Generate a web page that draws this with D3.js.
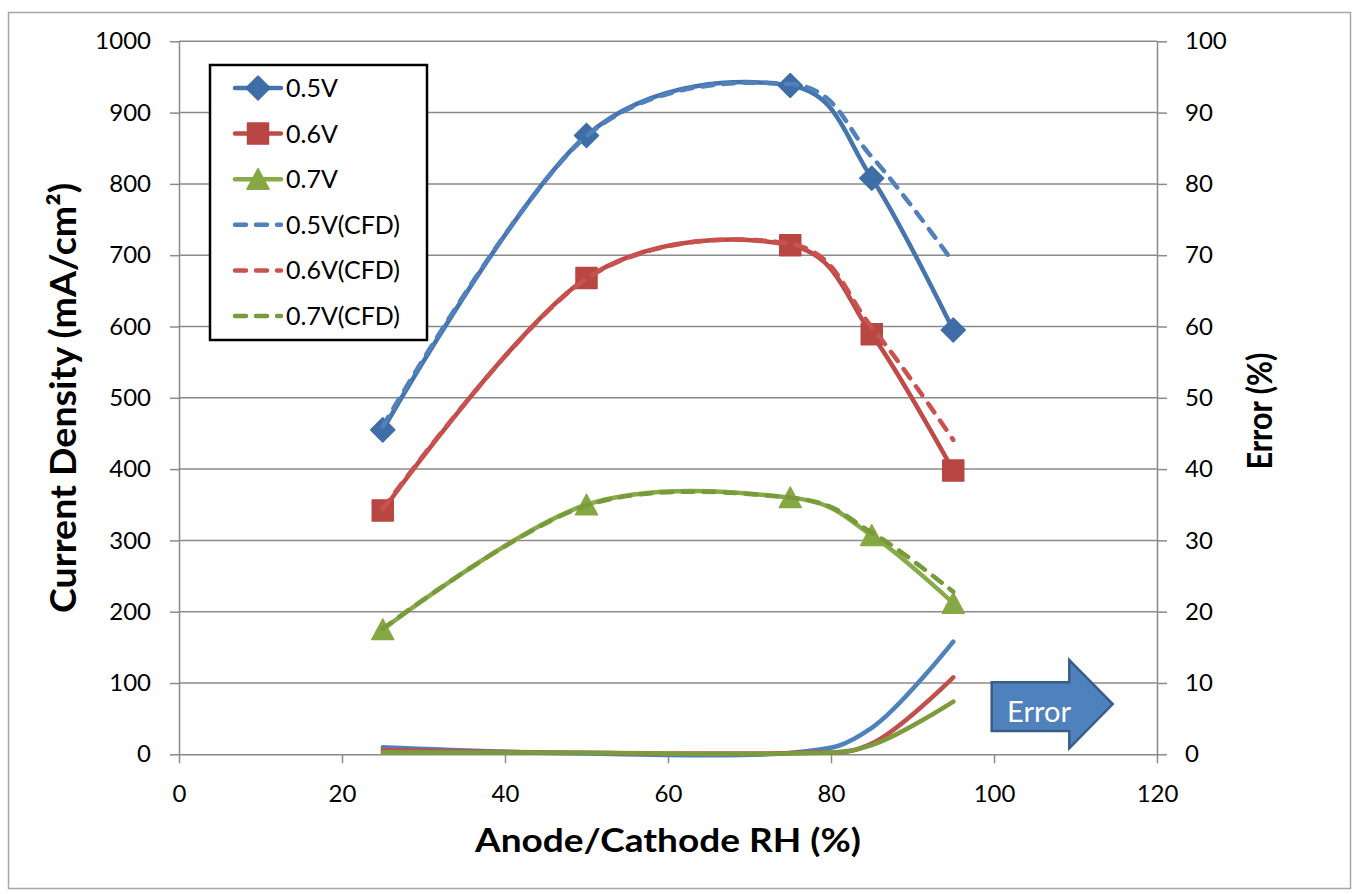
<!DOCTYPE html>
<html>
<head>
<meta charset="utf-8">
<script src="https://cdn.jsdelivr.net/npm/d3@7"></script>
<style>
  body { margin: 0; background: #fff; }
  text { font-family: Lato, "Open Sans", "DejaVu Sans", sans-serif; fill: #000; }
</style>
</head>
<body>
<svg id="chart" width="1354" height="894"></svg>
<script>
// Relative humidity set points (%)
const rh = [25, 50, 75, 85, 95];

// Measured current density (mA/cm²)
const exp05 = [455, 868, 938, 808, 595];
const exp06 = [342, 668, 714, 589, 398];
const exp07 = [175, 350, 360, 307, 212];

// CFD predicted current density (mA/cm²)
const cfd05 = [460, 867, 940, 838, 690];
const cfd06 = [344, 667, 716, 599, 441];
const cfd07 = [176, 349, 360, 311, 228];

// Relative error between CFD and measurement (%)
const err05 = [1.0, 0.1, 0.2, 3.7, 15.8];
const err06 = [0.6, 0.2, 0.2, 1.5, 10.8];
const err07 = [0.3, 0.2, 0.1, 1.3, 7.4];

// Axis ticks
const xTicks = [0, 20, 40, 60, 80, 100, 120];
const yTicks = [0, 100, 200, 300, 400, 500, 600, 700, 800, 900, 1000];
const y2Ticks = [0, 10, 20, 30, 40, 50, 60, 70, 80, 90, 100];

const legendLabels = ["0.5V", "0.6V", "0.7V", "0.5V(CFD)", "0.6V(CFD)", "0.7V(CFD)"];

const svg = d3.select("#chart");
const W = 1354, H = 894;
const plot = { left: 179, right: 1157, top: 41.3, bottom: 754.3 };

svg.append("rect").attr("width", W).attr("height", H).attr("fill", "#fff");
// chart frame
svg.append("rect")
  .attr("x", 8.5).attr("y", 12.5).attr("width", 1342).attr("height", 876)
  .attr("fill", "none").attr("stroke", "#a6a6a6").attr("stroke-width", 1.5);

const x = d3.scaleLinear().domain([0, 120]).range([plot.left, plot.right]);
const y = d3.scaleLinear().domain([0, 1000]).range([plot.bottom, plot.top]);
const y2 = d3.scaleLinear().domain([0, 100]).range([plot.bottom, plot.top]);

const gridColor = "#8a8a8a";
const fmt = d3.format("d");

// horizontal gridlines
svg.append("g").selectAll("line").data(yTicks.filter(d => d > 0)).join("line")
  .attr("x1", plot.left).attr("x2", plot.right)
  .attr("y1", d => y(d)).attr("y2", d => y(d))
  .attr("stroke", gridColor).attr("stroke-width", 1.5);

function styleAxis(g) {
  g.selectAll(".domain").attr("stroke", gridColor).attr("stroke-width", 1.5);
  g.selectAll(".tick line").attr("stroke", gridColor).attr("stroke-width", 1.5);
  g.selectAll(".tick text").attr("font-size", 24).attr("fill", "#000")
    .attr("font-family", "Lato, 'Open Sans', sans-serif");
}

svg.append("g").attr("transform", `translate(${plot.left},0)`)
  .call(d3.axisLeft(y).tickValues(yTicks).tickFormat(fmt).tickSize(9).tickPadding(19).tickSizeOuter(0))
  .call(styleAxis);

svg.append("g").attr("transform", `translate(${plot.right},0)`)
  .call(d3.axisRight(y2).tickValues(y2Ticks).tickFormat(fmt).tickSize(10).tickPadding(18).tickSizeOuter(0))
  .call(styleAxis);

svg.append("g").attr("transform", `translate(0,${plot.bottom})`)
  .call(d3.axisBottom(x).tickValues(xTicks).tickFormat(fmt).tickSize(9).tickPadding(22).tickSizeOuter(0))
  .call(styleAxis);

// axis titles
svg.append("text")
  .attr("transform", `translate(76,398) rotate(-90)`)
  .attr("text-anchor", "middle").attr("font-weight", 700).attr("font-size", 36)
  .attr("textLength", 430).attr("lengthAdjust", "spacingAndGlyphs")
  .text("Current Density (mA/cm²)");

svg.append("text")
  .attr("transform", `translate(1272,411) rotate(-90)`)
  .attr("text-anchor", "middle").attr("font-weight", 700).attr("font-size", 35)
  .attr("textLength", 117).attr("lengthAdjust", "spacingAndGlyphs")
  .text("Error (%)");

svg.append("text")
  .attr("x", 668).attr("y", 851.7)
  .attr("text-anchor", "middle").attr("font-weight", 700).attr("font-size", 32)
  .attr("textLength", 386).attr("lengthAdjust", "spacingAndGlyphs")
  .text("Anode/Cathode RH (%)");

const smooth = d3.curveCardinal.tension(0);

// error curves on the secondary axis
const errSeries = [
  { vals: err05, color: "#4f81bd" },
  { vals: err06, color: "#c0504d" },
  { vals: err07, color: "#7b9b3c" }
];
const errLine = d3.line().x((d, i) => x(rh[i])).y(d => y2(d)).curve(smooth);
svg.append("g").selectAll("path").data(errSeries).join("path")
  .attr("d", s => errLine(s.vals))
  .attr("fill", "none").attr("stroke", s => s.color)
  .attr("stroke-width", 4.5).attr("stroke-linecap", "round");

// measured series
const expSeries = [
  { vals: exp05, color: "#4674ad", mark: "#3f6da6", shape: "diamond" },
  { vals: exp06, color: "#be4b48", mark: "#b84643", shape: "square" },
  { vals: exp07, color: "#88aa48", mark: "#86a844", shape: "triangle" }
];
const cfdSeries = [
  { vals: cfd05, color: "#4f81bd" },
  { vals: cfd06, color: "#c9524e" },
  { vals: cfd07, color: "#779a3a" }
];
const mainLine = d3.line().x((d, i) => x(rh[i])).y(d => y(d)).curve(smooth);

function markerPath(shape) {
  if (shape === "diamond") return "M0,-12L12,0L0,12L-12,0Z";
  if (shape === "square") return "M-10.5,-10.5H10.5V10.5H-10.5Z";
  return "M0,-10.5L11,10L-11,10Z";
}

svg.append("g").selectAll("path").data(expSeries).join("path")
  .attr("d", s => mainLine(s.vals))
  .attr("fill", "none").attr("stroke", s => s.color)
  .attr("stroke-width", 4.5).attr("stroke-linecap", "round").attr("stroke-linejoin", "round");

expSeries.forEach(s => {
  svg.append("g").selectAll("path").data(s.vals).join("path")
    .attr("transform", (d, i) => `translate(${x(rh[i])},${y(d)})`)
    .attr("d", markerPath(s.shape))
    .attr("fill", s.mark).attr("stroke", s.mark)
    .attr("stroke-width", 1.5).attr("stroke-linejoin", "round");
});

svg.append("g").selectAll("path").data(cfdSeries).join("path")
  .attr("d", s => mainLine(s.vals))
  .attr("fill", "none").attr("stroke", s => s.color)
  .attr("stroke-width", 4.5).attr("stroke-linecap", "round")
  .attr("stroke-dasharray", "11,10");

// legend
const lg = svg.append("g");
lg.append("rect").attr("x", 210).attr("y", 65).attr("width", 217).attr("height", 275)
  .attr("fill", "#fff").attr("stroke", "#000").attr("stroke-width", 2.5);
const legendItems = [
  ...expSeries.map((s, i) => ({ label: legendLabels[i], color: s.color, mark: s.mark, shape: s.shape, dash: null })),
  ...cfdSeries.map((s, i) => ({ label: legendLabels[i + 3], color: s.color, shape: null, dash: "11,10" }))
];
legendItems.forEach((it, i) => {
  const cy = 88 + i * 45.6;
  lg.append("line").attr("x1", 235).attr("x2", 281).attr("y1", cy).attr("y2", cy)
    .attr("stroke", it.color).attr("stroke-width", 4.5).attr("stroke-linecap", "round")
    .attr("stroke-dasharray", it.dash);
  if (it.shape) {
    lg.append("path").attr("transform", `translate(258,${cy})`)
      .attr("d", markerPath(it.shape)).attr("fill", it.mark).attr("stroke", it.mark)
      .attr("stroke-width", 1.5).attr("stroke-linejoin", "round");
  }
  lg.append("text").attr("x", 286).attr("y", cy).attr("dy", "0.36em")
    .attr("font-size", 25).text(it.label);
});

// "Error" arrow pointing to the secondary axis
const ar = svg.append("g");
const ax0 = 991.7, ax1 = 1069.3, ax2 = 1112.7;
ar.append("path")
  .attr("d", `M${ax0},682.3H${ax1}V660L${ax2},704L${ax1},748.3V731H${ax0}Z`)
  .attr("fill", "#4f81bd").attr("stroke", "#385d8a").attr("stroke-width", 2.5)
  .attr("stroke-linejoin", "miter");
ar.append("text").attr("x", 1007).attr("y", 721.7)
  .attr("font-size", 28).attr("textLength", 64).attr("lengthAdjust", "spacingAndGlyphs")
  .style("fill", "#fff").text("Error");
</script>
</body>
</html>
